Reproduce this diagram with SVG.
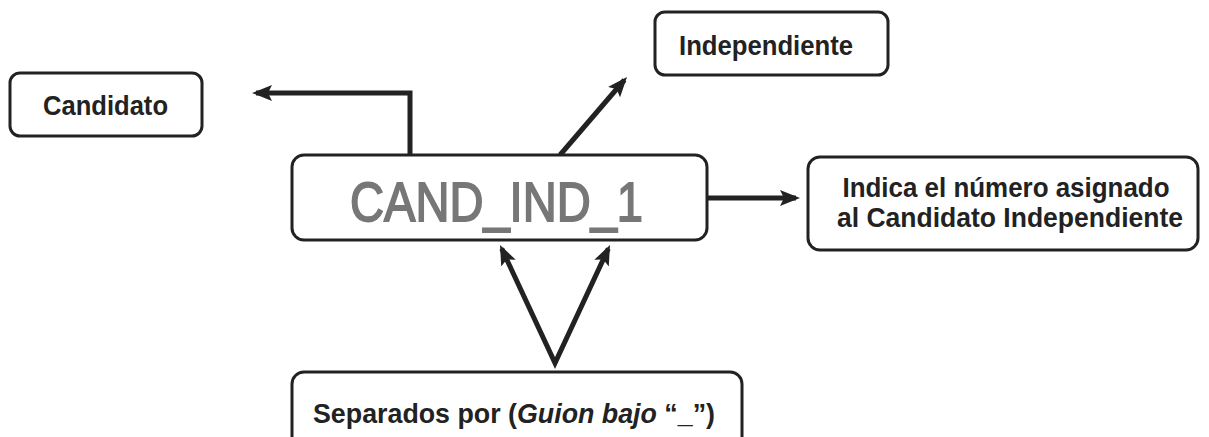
<svg xmlns="http://www.w3.org/2000/svg" width="1209" height="437" viewBox="0 0 1209 437">
<style>
.box{fill:#fff;stroke:#222;stroke-width:3}
.lbl{font-family:"Liberation Sans",Arial,sans-serif;font-weight:bold;font-size:27px;fill:#222;text-anchor:middle}
.big{font-family:"Liberation Sans",Arial,sans-serif;font-size:56px;fill:#777;stroke:#777;stroke-width:1.8;text-anchor:middle}
.con{fill:none;stroke:#222;stroke-width:5}
</style>
<defs>
<marker id="ah" viewBox="0 0 20 16" markerWidth="20" markerHeight="16" refX="16" refY="8" orient="auto-start-reverse" markerUnits="userSpaceOnUse">
<path d="M0,0 L20,8 L0,16 L4,8 z" fill="#222"/>
</marker>
</defs>
<rect width="1209" height="437" fill="#fff"/>
<g id="connectors">
<path class="con" d="M410,155 V93 H256" marker-end="url(#ah)"/>
<path class="con" d="M560,155 L624.4,80" marker-end="url(#ah)"/>
<path class="con" d="M707,198 H796" marker-end="url(#ah)"/>
<path class="con" stroke-linejoin="miter" d="M501.7,248.6 L555,363 L608.3,248.6" marker-start="url(#ah)" marker-end="url(#ah)"/>
</g>
<g id="node-candidato">
<rect class="box" x="10" y="73" width="192" height="63" rx="10"/>
<text class="lbl" x="105.5" y="115" textLength="125" lengthAdjust="spacingAndGlyphs">Candidato</text>
</g>
<g id="node-independiente">
<rect class="box" x="655" y="12" width="233" height="63" rx="10"/>
<text class="lbl" x="766" y="55" textLength="174" lengthAdjust="spacingAndGlyphs">Independiente</text>
</g>
<g id="node-main">
<rect class="box" x="292" y="155" width="415" height="85" rx="12"/>
<text class="big" x="496.5" y="221" textLength="293" lengthAdjust="spacingAndGlyphs">CAND_IND_1</text>
</g>
<g id="node-indica">
<rect class="box" x="808" y="157" width="390" height="93" rx="12"/>
<text class="lbl" x="1006" y="197" textLength="327" lengthAdjust="spacingAndGlyphs">Indica el número asignado</text>
<text class="lbl" x="1010" y="227" textLength="346" lengthAdjust="spacingAndGlyphs">al Candidato Independiente</text>
</g>
<g id="node-separados">
<rect class="box" x="292" y="372" width="450" height="80" rx="12"/>
<text class="lbl" x="514" y="423" textLength="402" lengthAdjust="spacingAndGlyphs">Separados por (<tspan font-style="italic">Guion bajo</tspan> “_”)</text>
</g>
</svg>
